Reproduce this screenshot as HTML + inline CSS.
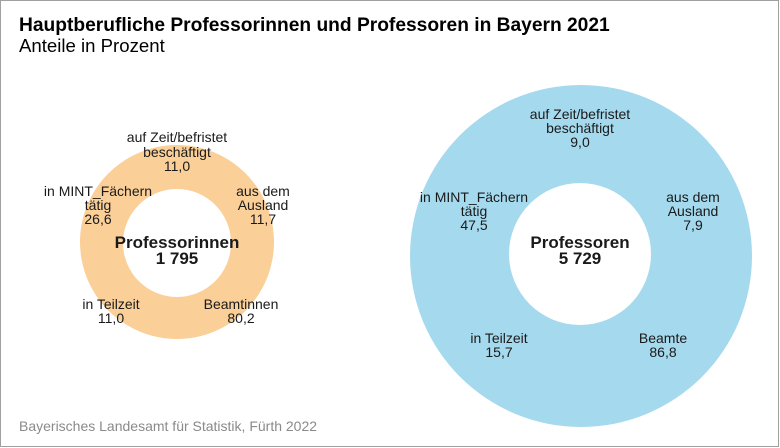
<!DOCTYPE html>
<html><head><meta charset="utf-8"><style>
body{margin:0;background:#fff}
svg{display:block;font-family:"Liberation Sans",sans-serif}
</style></head><body>
<svg width="780" height="448" viewBox="0 0 780 448">
<rect x="0.5" y="0.5" width="778" height="446" fill="#fff" stroke="#a0a0a0"/>
<text x="19" y="31" font-size="19.2" font-weight="bold" fill="#000">Hauptberufliche Professorinnen und Professoren in Bayern 2021</text>
<text x="19" y="52" font-size="18.6" fill="#000">Anteile in Prozent</text>
<circle cx="177" cy="242" r="97" fill="#fbcf98"/>
<circle cx="177" cy="243" r="54" fill="#fff"/>
<circle cx="581" cy="256" r="171" fill="#a5d9ee"/>
<circle cx="580" cy="254" r="71" fill="#fff"/>
<g font-size="14" fill="#1a1a1a" text-anchor="middle">
<text x="177" y="142">auf Zeit/befristet</text><text x="177" y="157">beschäftigt</text><text x="177" y="171">11,0</text>
<text x="98" y="196">in MINT_Fächern</text><text x="98" y="210">tätig</text><text x="98" y="224">26,6</text>
<text x="263" y="196">aus dem</text><text x="263" y="210">Ausland</text><text x="263" y="224">11,7</text>
<text x="111" y="309">in Teilzeit</text><text x="111" y="323">11,0</text>
<text x="241" y="309">Beamtinnen</text><text x="241" y="323">80,2</text>
<text x="580" y="119">auf Zeit/befristet</text><text x="580" y="133">beschäftigt</text><text x="580" y="147">9,0</text>
<text x="474" y="202">in MINT_Fächern</text><text x="474" y="216">tätig</text><text x="474" y="230">47,5</text>
<text x="693" y="202">aus dem</text><text x="693" y="216">Ausland</text><text x="693" y="230">7,9</text>
<text x="499" y="343">in Teilzeit</text><text x="499" y="357">15,7</text>
<text x="663" y="343">Beamte</text><text x="663" y="357">86,8</text>
</g>
<g font-size="17" font-weight="bold" fill="#1a1a1a" text-anchor="middle">
<text x="177" y="248">Professorinnen</text><text x="177" y="264">1 795</text>
<text x="580" y="248">Professoren</text><text x="580" y="264">5 729</text>
</g>
<text x="19" y="431" font-size="14" fill="#8a8a8a">Bayerisches Landesamt für Statistik, Fürth 2022</text>
</svg>
</body></html>
